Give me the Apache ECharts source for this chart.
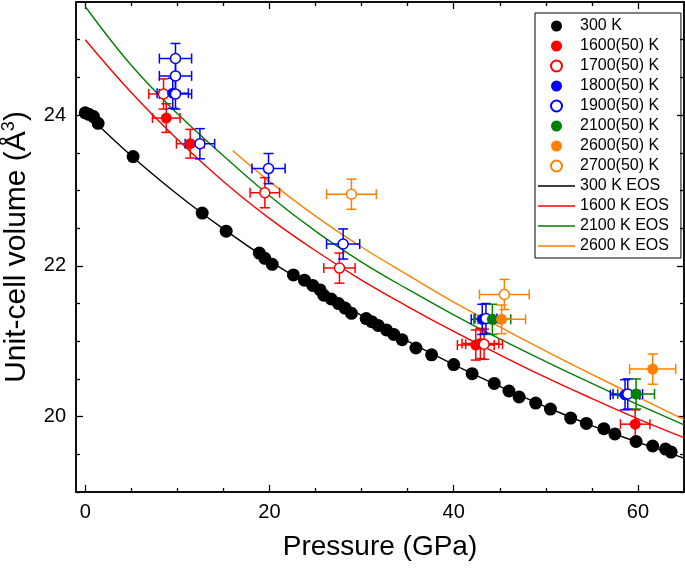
<!DOCTYPE html>
<html>
<head>
<meta charset="utf-8">
<script src="https://cdn.jsdelivr.net/npm/echarts@6/dist/echarts.min.js"></script>
<style>
html,body{margin:0;padding:0;background:#fff;}
#chart{width:685px;height:569px;}
</style>
</head>
<body>
<div id="chart"></div>
<script>
// ---------- data ----------
const xTicks = [0, 20, 40, 60];
const xMinorTicks = [5, 10, 15, 25, 30, 35, 45, 50, 55, 65];
const yTicks = [20, 22, 24];
const yMinorTicks = [19, 19.5, 20.5, 21, 21.5, 22.5, 23, 23.5, 24.5, 25];

// 300 K measured
const p300 = [0.0, 0.4, 0.9, 1.4, 5.2, 12.7, 15.3, 18.9, 19.5, 20.3, 22.6, 23.8, 24.7, 25.5, 25.9, 26.7, 27.5, 28.2, 28.9, 30.5, 31.1, 31.8, 32.7, 33.5, 34.4, 35.9, 37.6, 40.0, 42.0, 44.4, 46.0, 47.1, 48.9, 50.5, 52.7, 54.4, 56.3, 57.5, 59.8, 61.6, 63.0, 63.6];
const v300 = [24.03, 24.01, 23.98, 23.89, 23.45, 22.70, 22.46, 22.17, 22.10, 22.02, 21.88, 21.81, 21.74, 21.68, 21.61, 21.56, 21.50, 21.44, 21.37, 21.30, 21.26, 21.21, 21.15, 21.09, 21.02, 20.91, 20.82, 20.69, 20.57, 20.44, 20.34, 20.26, 20.18, 20.10, 19.98, 19.91, 19.84, 19.77, 19.67, 19.61, 19.57, 19.53];

// high-temperature points: P, V, P error, V error
const p1600 = [8.8, 11.4, 42.4, 42.9, 59.7];
const v1600 = [23.96, 23.62, 20.95, 20.97, 19.90];
const ep1600 = [1.5, 1.5, 2.0, 2.0, 1.6];
const ev1600 = [0.19, 0.19, 0.2, 0.2, 0.19];

const p1700 = [8.5, 19.5, 27.6, 43.3];
const v1700 = [24.28, 22.97, 21.97, 20.96];
const ep1700 = [1.6, 1.6, 1.7, 2.0];
const ev1700 = [0.2, 0.2, 0.2, 0.2];

const p1800 = [9.5, 43.1, 58.6];
const v1800 = [24.29, 21.29, 20.29];
const ep1800 = [1.7, 1.2, 1.6];
const ev1800 = [0.2, 0.2, 0.2];

const p1900 = [9.8, 9.8, 9.8, 12.45, 19.9, 28.0, 43.5, 58.9];
const v1900 = [24.75, 24.52, 24.28, 23.62, 23.29, 22.29, 21.30, 20.30];
const ep1900 = [1.75, 1.75, 1.75, 1.6, 1.8, 1.8, 1.2, 1.6];
const ev1900 = [0.2, 0.2, 0.2, 0.2, 0.2, 0.2, 0.2, 0.2];

const p2100 = [44.2, 59.8];
const v2100 = [21.29, 20.30];
const ep2100 = [2.0, 2.0];
const ev2100 = [0.2, 0.2];

const p2600 = [45.2, 61.6];
const v2600 = [21.29, 20.63];
const ep2600 = [2.6, 2.5];
const ev2600 = [0.19, 0.2];

const p2700 = [28.9, 45.5];
const v2700 = [22.95, 21.62];
const ep2700 = [2.7, 2.7];
const ev2700 = [0.2, 0.2];

// EOS curves
const pEos300 = [0, 5, 10, 15, 20, 25, 30, 35, 40, 45, 50, 55, 60, 65];
const vEos300 = [24.03, 23.46, 22.95, 22.49, 22.07, 21.69, 21.34, 21.00, 20.69, 20.40, 20.13, 19.88, 19.66, 19.45];
const pEos1600 = [0, 5, 10, 15, 20, 25, 30, 35, 40, 45, 50, 55, 60, 65];
const vEos1600 = [25.00, 24.30, 23.68, 23.12, 22.63, 22.20, 21.81, 21.46, 21.13, 20.82, 20.52, 20.24, 19.97, 19.72];
const pEos2100 = [0, 5, 10, 15, 20, 25, 30, 35, 40, 45, 50, 55, 60, 65];
const vEos2100 = [25.44, 24.66, 24.02, 23.46, 22.93, 22.46, 22.05, 21.69, 21.35, 21.03, 20.73, 20.44, 20.16, 19.89];
const pEos2600 = [16, 20, 25, 30, 35, 40, 45, 50, 55, 60, 65];
const vEos2600 = [23.53, 23.12, 22.66, 22.25, 21.88, 21.52, 21.19, 20.87, 20.56, 20.26, 19.96];

// ---------- styling ----------
const FONT = "'Liberation Sans', Arial, sans-serif";
const RED = '#ff0000', BLUE = '#0000ff', GREEN = '#008000', ORANGE = '#ff8000', BLACK = '#000000';
const LINE_ICON = 'path://M0,0L100,0L100,4L0,4Z';

const zip = (a, b) => a.map((x, i) => [x, b[i]]);
const zip4 = (a, b, c, d) => a.map((x, i) => [x, b[i], c[i], d[i]]);

function errBars(P, V, EP, EV, color) {
  return {
    type: 'custom',
    z: 3,
    silent: true,
    data: zip4(P, V, EP, EV),
    renderItem: function (params, api) {
      const x = api.value(0), y = api.value(1), ex = api.value(2), ey = api.value(3);
      const l = api.coord([x - ex, y]);
      const r = api.coord([x + ex, y]);
      const t = api.coord([x, y + ey]);
      const b = api.coord([x, y - ey]);
      const cap = 5;
      const st = { stroke: color, lineWidth: 1.5 };
      const ln = (x1, y1, x2, y2) => ({ type: 'line', shape: { x1, y1, x2, y2 }, style: st });
      return {
        type: 'group',
        children: [
          ln(l[0], l[1], r[0], r[1]),
          ln(t[0], t[1], b[0], b[1]),
          ln(l[0], l[1] - cap, l[0], l[1] + cap),
          ln(r[0], r[1] - cap, r[0], r[1] + cap),
          ln(t[0] - cap, t[1], t[0] + cap, t[1]),
          ln(b[0] - cap, b[1], b[0] + cap, b[1])
        ]
      };
    }
  };
}

function pts(name, P, V, color, open, size) {
  return {
    name: name,
    type: 'scatter',
    z: 3,
    symbol: 'circle',
    symbolSize: size || 10,
    data: zip(P, V),
    itemStyle: open
      ? { color: '#ffffff', borderColor: color, borderWidth: 1.5, opacity: 1 }
      : { color: color, opacity: 1 }
  };
}

function eos(name, P, V, color) {
  return {
    name: name,
    type: 'line',
    z: 2,
    smooth: 0.4,
    symbol: 'none',
    showSymbol: false,
    data: zip(P, V),
    lineStyle: { color: color, width: 1.4 },
    itemStyle: { color: color }
  };
}

const axisLine = { show: true, onZero: false, lineStyle: { color: BLACK, width: 1.5 } };

function xAx(position, values, len, labels) {
  return {
    type: 'value', position: position, min: -1, max: 65,
    axisLine: axisLine,
    splitLine: { show: false },
    axisTick: { show: true, inside: true, length: len, customValues: values, lineStyle: { color: BLACK, width: 1.3 } },
    axisLabel: labels
      ? { show: true, customValues: values, fontSize: 20, color: BLACK, fontFamily: FONT, margin: 10 }
      : { show: false }
  };
}
function yAx(position, values, len, labels) {
  return {
    type: 'value', position: position, min: 19, max: 25.5,
    axisLine: axisLine,
    splitLine: { show: false },
    axisTick: { show: true, inside: true, length: len, customValues: values, lineStyle: { color: BLACK, width: 1.3 } },
    axisLabel: labels
      ? { show: true, customValues: values, fontSize: 20, color: BLACK, fontFamily: FONT, margin: 10 }
      : { show: false }
  };
}

const xMain = xAx('bottom', xTicks, 7, true);
xMain.name = 'Pressure (GPa)';
xMain.nameLocation = 'middle';
xMain.nameGap = 41;
xMain.nameTextStyle = { fontSize: 28, color: BLACK, fontFamily: FONT };

const yMain = yAx('left', yTicks, 7, true);
yMain.name = 'Unit-cell volume (Å{sup|3})';
yMain.nameLocation = 'middle';
yMain.nameGap = 42;
yMain.nameTextStyle = {
  fontSize: 30, color: BLACK, fontFamily: FONT,
  rich: { sup: { fontSize: 18, color: BLACK, fontFamily: FONT, verticalAlign: 'top', padding: [0, 0, 16, 0] } }
};

const option = {
  animation: false,
  backgroundColor: '#ffffff',
  textStyle: { fontFamily: FONT },
  grid: { left: 76, right: 1, top: 2, bottom: 77, containLabel: false, outerBoundsMode: 'none' },
  xAxis: [
    xMain,
    xAx('bottom', xMinorTicks, 4, false),
    xAx('top', xTicks, 7, false),
    xAx('top', xMinorTicks, 4, false)
  ],
  yAxis: [
    yMain,
    yAx('left', yMinorTicks, 4, false),
    yAx('right', yTicks, 7, false),
    yAx('right', yMinorTicks, 4, false)
  ],
  legend: {
    orient: 'vertical',
    left: 535, top: 13,
    padding: [5, 12, 4, 3],
    itemGap: 4, itemWidth: 37, itemHeight: 11,
    borderColor: BLACK, borderWidth: 1,
    selectedMode: false,
    textStyle: { fontSize: 16, color: BLACK, fontFamily: FONT },
    data: ['300 K', '1600(50) K', '1700(50) K', '1800(50) K', '1900(50) K', '2100(50) K', '2600(50) K', '2700(50) K',
      { name: '300 K EOS', icon: LINE_ICON },
      { name: '1600 K EOS', icon: LINE_ICON },
      { name: '2100 K EOS', icon: LINE_ICON },
      { name: '2600 K EOS', icon: LINE_ICON }]
  },
  series: [
    eos('300 K EOS', pEos300, vEos300, BLACK),
    eos('1600 K EOS', pEos1600, vEos1600, RED),
    eos('2100 K EOS', pEos2100, vEos2100, GREEN),
    eos('2600 K EOS', pEos2600, vEos2600, ORANGE),
    pts('300 K', p300, v300, BLACK, false, 13),
    errBars(p1600, v1600, ep1600, ev1600, RED),
    pts('1600(50) K', p1600, v1600, RED, false, 11),
    errBars(p1700, v1700, ep1700, ev1700, RED),
    pts('1700(50) K', p1700, v1700, RED, true, 10),
    errBars(p1800, v1800, ep1800, ev1800, BLUE),
    pts('1800(50) K', p1800, v1800, BLUE, false, 11),
    errBars(p1900, v1900, ep1900, ev1900, BLUE),
    pts('1900(50) K', p1900, v1900, BLUE, true, 10),
    errBars(p2100, v2100, ep2100, ev2100, GREEN),
    pts('2100(50) K', p2100, v2100, GREEN, false, 11),
    errBars(p2600, v2600, ep2600, ev2600, ORANGE),
    pts('2600(50) K', p2600, v2600, ORANGE, false, 11),
    errBars(p2700, v2700, ep2700, ev2700, ORANGE),
    pts('2700(50) K', p2700, v2700, ORANGE, true, 10)
  ]
};

const chart = echarts.init(document.getElementById('chart'), null, { renderer: 'canvas' });
chart.setOption(option);
</script>
</body>
</html>
